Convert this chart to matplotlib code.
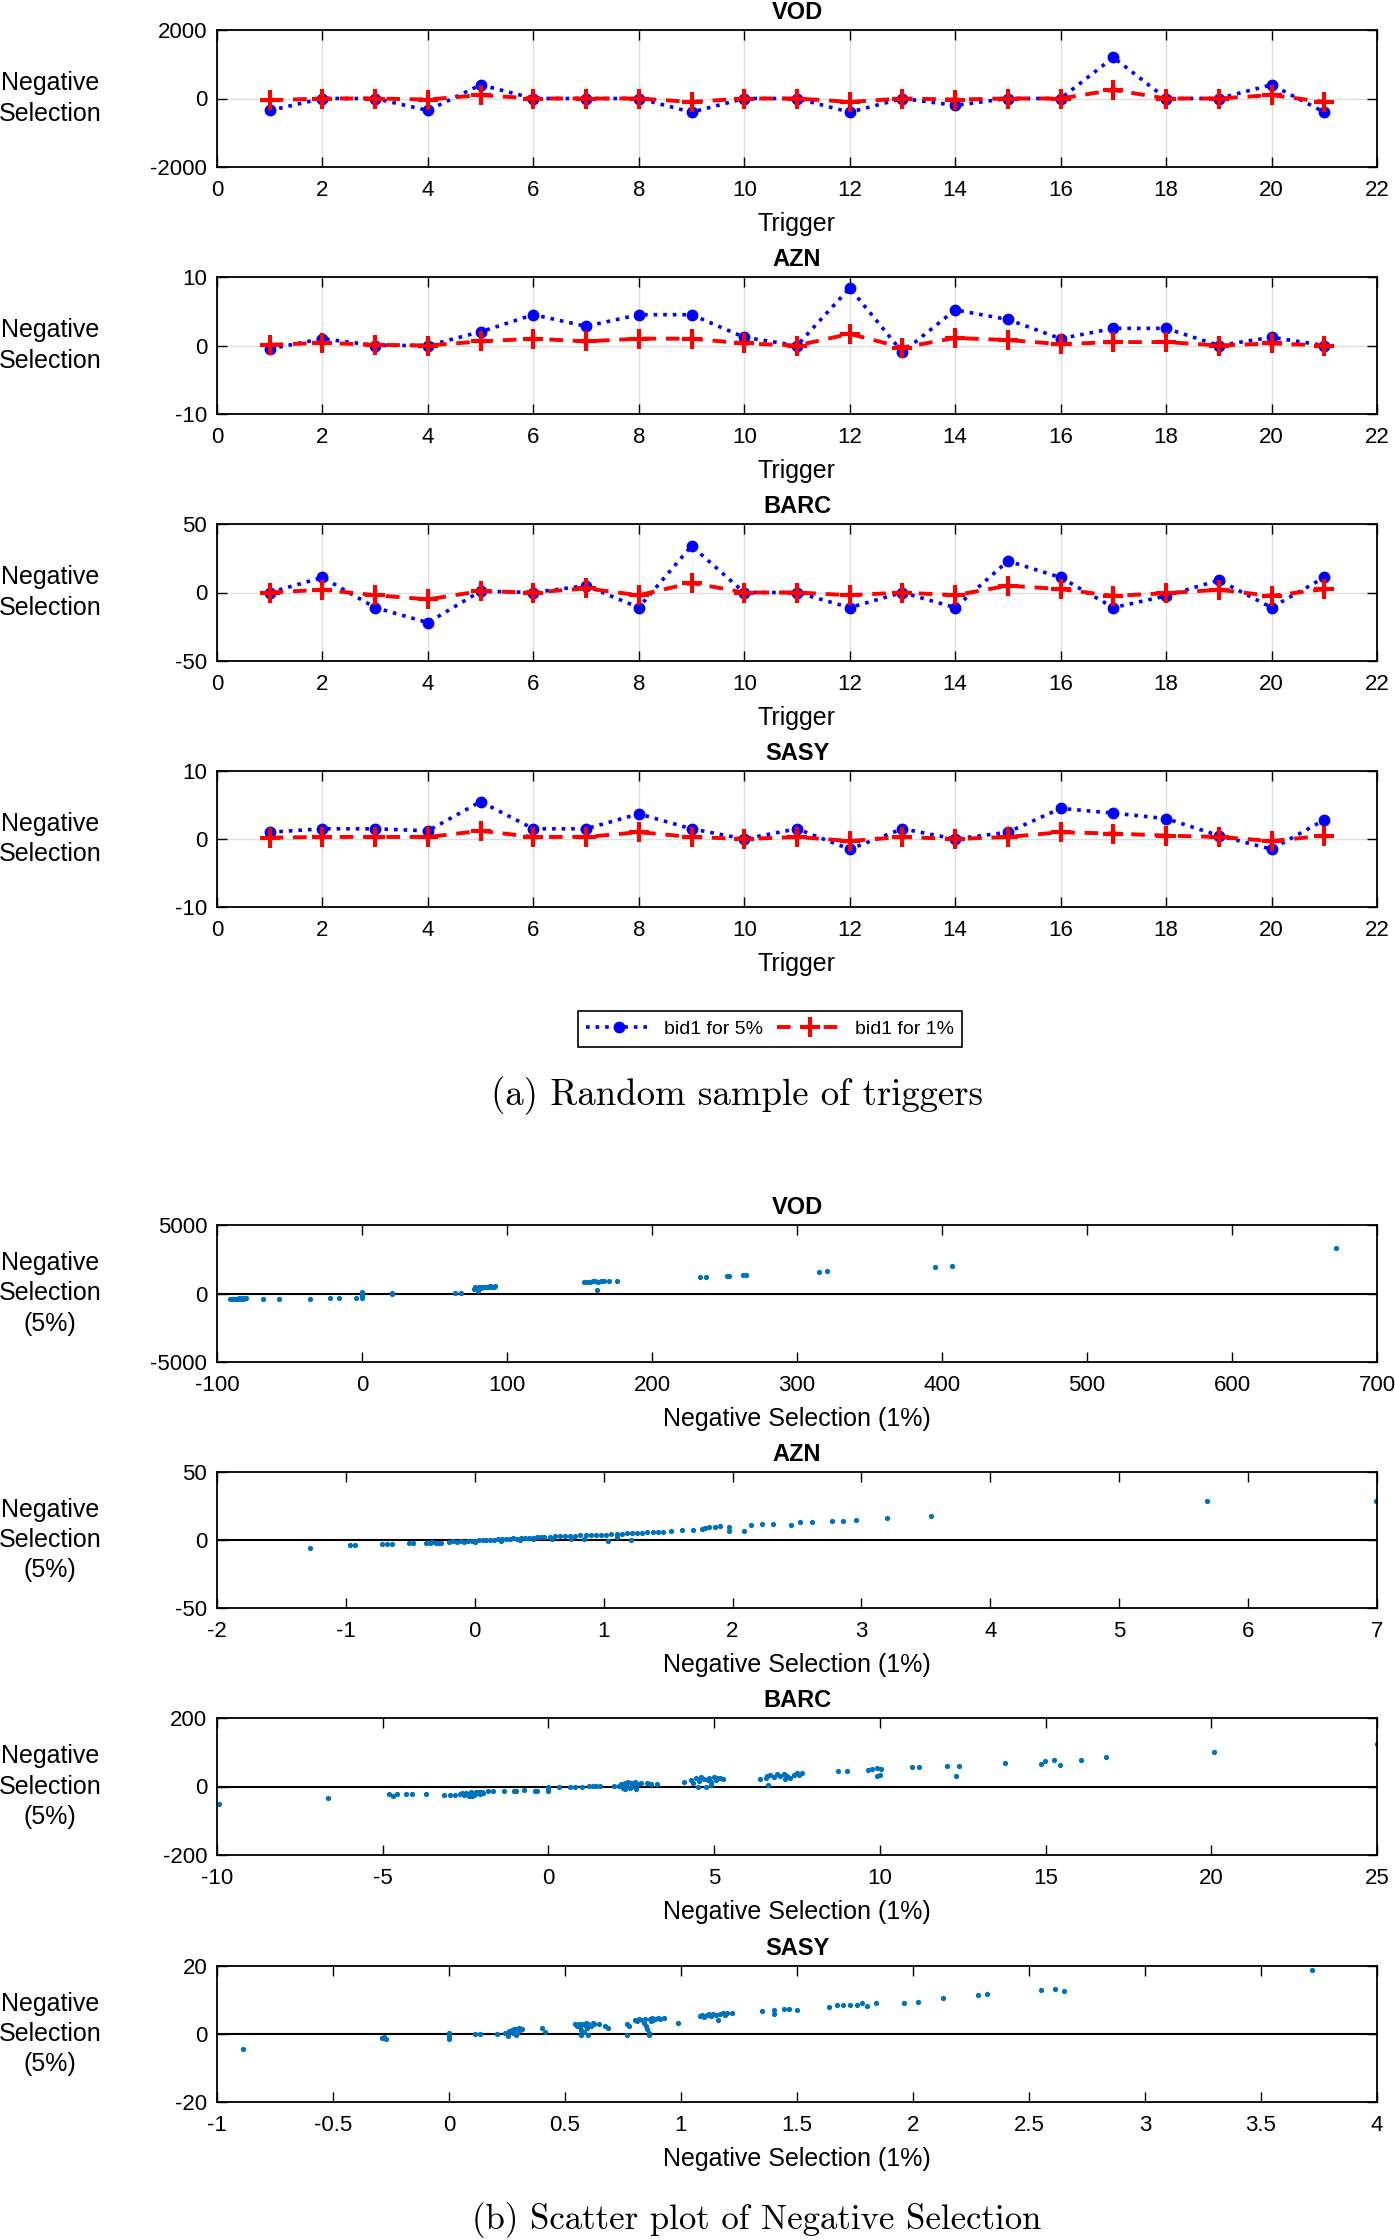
import numpy as np
import matplotlib
matplotlib.use('Agg')
import matplotlib.pyplot as plt
from matplotlib.ticker import FuncFormatter

plt.rcParams['font.family'] = ['Liberation Sans', 'DejaVu Sans']
plt.rcParams['axes.unicode_minus'] = False

# ---- (a) random sample of triggers ----
trigger = list(range(1, 22))
names = ['VOD', 'AZN', 'BARC', 'SASY']

vod_5 = [-350, 0, 0, -350, 400, 0, 0, 0, -400, 0, 0, -400, 0, -200, 0, 0, 1200, 0, 0, 400, -400]
vod_1 = [-50, 0, 0, -30, 100, 0, 0, 0, -100, 0, 0, -100, 0, -30, 0, 0, 250, 0, 0, 100, -100]
azn_5 = [-0.5, 1, 0, 0, 2, 4.5, 2.8, 4.5, 4.5, 1.2, 0, 8.4, -1, 5.2, 3.8, 1, 2.5, 2.5, 0, 1.2, 0]
azn_1 = [0.1, 0.4, 0.1, 0, 0.6, 1.0, 0.6, 1.0, 1.0, 0.3, 0, 1.7, -0.3, 1.1, 0.8, 0.2, 0.5, 0.5, 0, 0.3, 0]
barc_5 = [0, 11, -11, -22, 1, 0, 5, -11, 34, 0, 0, -11, 0, -11, 23, 11, -11, -2.5, 9, -11, 11]
barc_1 = [0, 2, -2, -5, 1, 0, 3, -2, 7, 0, 0, -2, 0, -2, 5, 2.5, -2.5, -0.5, 2, -2.5, 2.5]
sasy_5 = [1, 1.5, 1.5, 1.2, 5.5, 1.5, 1.5, 3.7, 1.5, 0, 1.5, -1.5, 1.5, 0, 1, 4.5, 3.8, 3, 0.5, -1.5, 2.8]
sasy_1 = [0.2, 0.3, 0.3, 0.3, 1.2, 0.3, 0.3, 1.0, 0.3, 0, 0.3, -0.3, 0.3, 0, 0.3, 1.0, 0.8, 0.5, 0.3, -0.3, 0.5]

top_xticks = list(range(0, 23, 2))
top_yticks = [[-2000, 0, 2000], [-10, 0, 10], [-50, 0, 50], [-10, 0, 10]]

# ---- (b) scatter of negative selection, (1%, 5%) pairs ----
vod_pts = [(-91, -400), (-90, -380), (-89, -410), (-88, -390), (-87, -370), (-86, -400),
           (-85, -360), (-84, -380), (-83, -350), (-82, -370), (-81, -340), (-80, -360),
           (-68, -400), (-57, -380), (-36, -370), (-22, -350), (-16, -350), (-4, -350),
           (0, -300), (0, -200), (0, -100), (0, 0), (0, 100), (21, 0), (21, 60), (64, 50), (68, 50),
           (77, 350), (78, 450), (79, 300), (80, 200), (80, 400), (81, 480), (82, 420), (83, 500),
           (84, 450), (85, 480), (86, 500), (87, 460), (88, 520), (89, 490), (90, 500), (91, 510),
           (92, 520), (153, 850), (155, 870), (157, 860), (159, 880), (161, 890), (162, 220),
           (163, 870), (165, 890), (167, 900), (170, 910), (176, 930), (233, 1200), (237, 1220),
           (252, 1250), (253, 1310), (263, 1330), (265, 1360), (315, 1600), (321, 1620),
           (395, 1950), (407, 2000), (672, 3350)]

azn_pts = [(-1.28, -6), (-0.97, -4), (-0.93, -4), (-0.72, -3), (-0.68, -3), (-0.64, -3),
           (-0.51, -2.4), (-0.48, -2.4), (-0.38, -2), (-0.35, -2.2), (-0.33, -1.8), (-0.30, -2),
           (-0.28, -2.2), (-0.26, -1.9), (-0.20, -1.2), (-0.17, -1.0), (-0.14, -1.3), (-0.11, -1.0),
           (-0.08, -1.2), (-0.05, -0.8), (-0.02, -1.0), (0.0, -0.6), (0.0, -1.5), (0.03, -0.3),
           (0.06, 0), (0.09, -0.2), (0.12, 0.3), (0.15, 0.2), (0.18, 0.5), (0.21, 0.6), (0.24, 0.7),
           (0.2, -0.5), (0.27, 1.0), (0.30, 1.2), (0.33, 1.1), (0.36, 1.5), (0.39, 1.4), (0.42, 1.7),
           (0.45, 1.8), (0.48, 2.0), (0.51, 2.1), (0.54, 2.2), (0.35, 0.2), (0.45, 0.4), (0.58, 2.5),
           (0.62, 2.6), (0.66, 2.9), (0.70, 3.0), (0.74, 3.1), (0.78, 3.3), (0.82, 3.4), (0.86, 3.5),
           (0.90, 3.6), (0.94, 3.7), (0.6, 0.5), (0.75, 0.6), (0.85, 1.0), (0.98, 3.8), (1.02, 4.0),
           (1.06, 4.2), (1.10, 4.5), (1.14, 4.7), (1.18, 5.0), (1.22, 5.2), (1.26, 5.3), (1.30, 5.5),
           (1.03, -0.5), (1.21, -0.3), (1.1, 2.5), (1.34, 5.7), (1.38, 5.8), (1.42, 5.7), (1.46, 5.9),
           (1.52, 6.4), (1.61, 7.0), (1.69, 7.5), (1.76, 8.4), (1.79, 8.9), (1.82, 9.3), (1.86, 9.6),
           (1.90, 10), (1.97, 9.6), (1.97, 6.4), (2.09, 6.4), (2.14, 10.8), (2.23, 11.6), (2.31, 12),
           (2.45, 10.8), (2.52, 13), (2.62, 13), (2.77, 14), (2.86, 14), (2.96, 14.7), (3.2, 16),
           (3.54, 18), (5.68, 28.5), (6.99, 29)]

barc_pts = [(-9.95, -50), (-6.65, -33), (-4.8, -23), (-4.7, -28), (-4.58, -22), (-4.31, -22),
            (-4.13, -22), (-3.7, -22), (-3.14, -24), (-2.96, -24), (-2.81, -24), (-2.66, -22),
            (-2.6, -20), (-2.55, -25), (-2.5, -18), (-2.45, -22), (-2.4, -27), (-2.35, -16),
            (-2.3, -20), (-2.25, -24), (-2.2, -15), (-2.15, -19), (-2.1, -17), (-2.05, -22),
            (-2.0, -16), (-1.96, -18), (-2.3, -29), (-1.81, -14), (-1.66, -14), (-1.35, -12),
            (-1.05, -12), (-0.97, -12), (-0.75, -10), (-0.40, -12), (-0.33, -12), (0, -14), (0, -8),
            (0, -2), (0.33, 0), (0.64, 0), (0.81, 0), (1.01, 0), (1.21, 2), (1.33, 2), (1.45, 2),
            (1.56, 2), (1.97, 1), (2.12, 2), (2.2, 8), (2.25, -3), (2.3, 11), (2.35, 5), (2.4, 13),
            (2.45, -5), (2.5, 9), (2.55, 3), (2.6, 12), (2.65, -7), (2.7, 7), (2.78, 10), (2.3, -7),
            (2.5, 0), (2.96, 11), (3.08, 7), (3.27, 6), (4.08, 12), (4.29, 20), (4.35, 10),
            (4.45, 25), (4.5, 0), (4.55, 15), (4.6, 28), (4.7, 22), (4.75, -2), (4.8, 18), (4.85, 26),
            (4.9, 12), (5.0, 27), (5.05, 20), (5.1, 24), (5.19, 25), (5.27, 21), (4.9, 5), (6.38, 21),
            (6.55, 25), (6.63, 5), (6.6, 30), (6.7, 35), (6.8, 28), (6.9, 37), (7.0, 32), (7.1, 36),
            (7.15, 22), (7.2, 30), (7.3, 25), (7.4, 35), (7.5, 38), (7.55, 33), (7.65, 38),
            (8.74, 45), (9.01, 45), (9.63, 47), (9.75, 50), (9.9, 53), (9.9, 30), (10.03, 50),
            (10.0, 35), (10.97, 57), (11.18, 57), (12.04, 61), (12.39, 61), (12.3, 30), (13.79, 70),
            (14.86, 67), (14.99, 75), (15.26, 78), (15.45, 63), (16.07, 78), (16.82, 85),
            (20.09, 101), (25.0, 124)]

sasy_pts = [(-0.89, -4.5), (-0.29, -1.3), (-0.28, -1.0), (-0.27, -1.5), (-0.28, -1.2),
            (0.0, 0.2), (0.0, -0.5), (0.0, -1.0), (0.0, -1.5), (0.113, 0), (0.134, 0), (0.207, 0),
            (0.243, 0.2), (0.255, -0.5), (0.26, 0.8), (0.27, 1.2), (0.275, 0.3), (0.28, 1.6),
            (0.285, 0.9), (0.29, 1.5), (0.295, 0.2), (0.30, 1.7), (0.305, 1.2), (0.31, 1.6),
            (0.315, 1.4), (0.29, -0.3), (0.401, 1.7), (0.415, 0.5), (0.545, 2.9), (0.55, 2.4),
            (0.56, 3.0), (0.565, 2.0), (0.57, 1.2), (0.575, 2.8), (0.58, 0.5), (0.585, 2.6),
            (0.59, 3.1), (0.595, 1.8), (0.60, -0.3), (0.60, 3.0), (0.61, 2.5), (0.62, 3.2),
            (0.624, 2.9), (0.57, -0.3), (0.648, 2.8), (0.674, 2.3), (0.684, 1.7), (0.767, 3.0),
            (0.775, 2.5), (0.767, -0.2), (0.803, 4.2), (0.81, 3.8), (0.82, 4.4), (0.83, 4.0),
            (0.84, 3.2), (0.845, 4.5), (0.85, 2.5), (0.855, 1.5), (0.86, 0.3), (0.865, 4.3),
            (0.87, 3.7), (0.875, 4.6), (0.88, 4.1), (0.89, 4.4), (0.90, 4.7), (0.91, 4.3),
            (0.925, 4.6), (0.86, -0.3), (0.986, 3.2), (1.084, 5.2), (1.09, 5.7), (1.10, 5.0),
            (1.11, 5.6), (1.12, 5.9), (1.13, 5.4), (1.14, 6.0), (1.15, 5.5), (1.16, 4.0), (1.17, 5.8),
            (1.18, 6.1), (1.19, 5.6), (1.20, 6.2), (1.221, 6.3), (1.35, 6.8), (1.40, 7.0), (1.40, 5.8),
            (1.443, 7.3), (1.465, 7.3), (1.50, 7.0), (1.637, 8.0), (1.673, 8.4), (1.70, 8.5),
            (1.73, 8.6), (1.76, 8.4), (1.78, 9.0), (1.80, 8.3), (1.84, 9.0), (1.96, 9.0), (2.02, 9.3),
            (2.13, 10.7), (2.28, 11.5), (2.32, 11.7), (2.55, 13.0), (2.61, 13.2), (2.65, 12.7),
            (3.72, 18.7)]

sc_xticks = [list(range(-100, 701, 100)), list(range(-2, 8)), list(range(-10, 26, 5)),
             [-1, -0.5, 0, 0.5, 1, 1.5, 2, 2.5, 3, 3.5, 4]]
sc_yticks = [[-5000, 0, 5000], [-50, 0, 50], [-200, 0, 200], [-20, 0, 20]]

W, H = 1395, 2240
top_rows = [(30, 167), (277, 414), (524, 661), (771, 907)]
sc_rows = [(1225, 1362), (1472, 1608), (1718, 1855), (1966, 2102)]


def rect(top, bot):
    return [217 / W, 1 - bot / H, (1377 - 217) / W, (bot - top) / H]


def style(ax, xticks, yticks):
    ax.set_xlim(xticks[0], xticks[-1])
    ax.set_ylim(yticks[0], yticks[-1])
    ax.set_xticks(xticks)
    ax.set_yticks(yticks)
    fmt = FuncFormatter(lambda v, p: '%g' % v)
    ax.xaxis.set_major_formatter(fmt)
    ax.yaxis.set_major_formatter(fmt)
    ax.tick_params(direction='in', top=True, right=True, length=7, width=1, labelsize=16)
    ax.tick_params(axis='x', pad=9.5)
    ax.tick_params(axis='y', pad=7)
    for s in ax.spines.values():
        s.set_linewidth(1.3)


def labels(ax, name, xlab, ylab):
    ax.set_title(name, fontsize=17, fontweight='bold', pad=8)
    ax.set_xlabel(xlab, fontsize=18, labelpad=7.5)
    ax.set_ylabel(ylab, fontsize=18, rotation=0, ha='center', va='center', linespacing=1.32)
    ax.yaxis.set_label_coords(-0.144, 0.5)


fig = plt.figure(figsize=(W / 100, H / 100), dpi=100)

five = [vod_5, azn_5, barc_5, sasy_5]
one = [vod_1, azn_1, barc_1, sasy_1]
for i in range(4):
    ax = fig.add_axes(rect(*top_rows[i]))
    l5, = ax.plot(trigger, five[i], ':', color='#0000ff', lw=2.6, marker='o', ms=7.5)
    l1, = ax.plot(trigger, one[i], '--', color='#ff0000', lw=2.8, marker='+', ms=15, mew=3,
                  dashes=(3.5, 2.5))
    style(ax, top_xticks, top_yticks[i])
    ax.grid(True, color='#dedede', lw=1)
    ax.set_axisbelow(True)
    labels(ax, names[i], 'Trigger', 'Negative\nSelection')

leg = fig.legend([l5, l1], ['bid1 for 5%', 'bid1 for 1%'], loc='center',
                 bbox_to_anchor=(770 / W, 1 - 1029 / H), ncol=2, fontsize=14,
                 fancybox=False, edgecolor='black', handlelength=3.4, handletextpad=0.6,
                 columnspacing=0.7, borderpad=0.45, framealpha=1)
leg.get_frame().set_linewidth(1.2)

fig.text(737 / W, 1 - 1096 / H, '(a) Random sample of triggers', ha='center', va='center',
         family='cmr10', fontsize=26.5)

pts = [vod_pts, azn_pts, barc_pts, sasy_pts]
for i in range(4):
    ax = fig.add_axes(rect(*sc_rows[i]))
    xy = np.array(pts[i])
    ax.axhline(0, color='black', lw=1.5, zorder=1)
    ax.plot(xy[:, 0], xy[:, 1], 'o', color='#0072bd', ms=3.8, mew=0, zorder=2)
    style(ax, sc_xticks[i], sc_yticks[i])
    labels(ax, names[i], 'Negative Selection (1%)', 'Negative\nSelection\n(5%)')

fig.text(757 / W, 1 - 2220 / H, '(b) Scatter plot of Negative Selection', ha='center',
         va='center', family='cmr10', fontsize=25)

fig.savefig('out.png', dpi=100)
